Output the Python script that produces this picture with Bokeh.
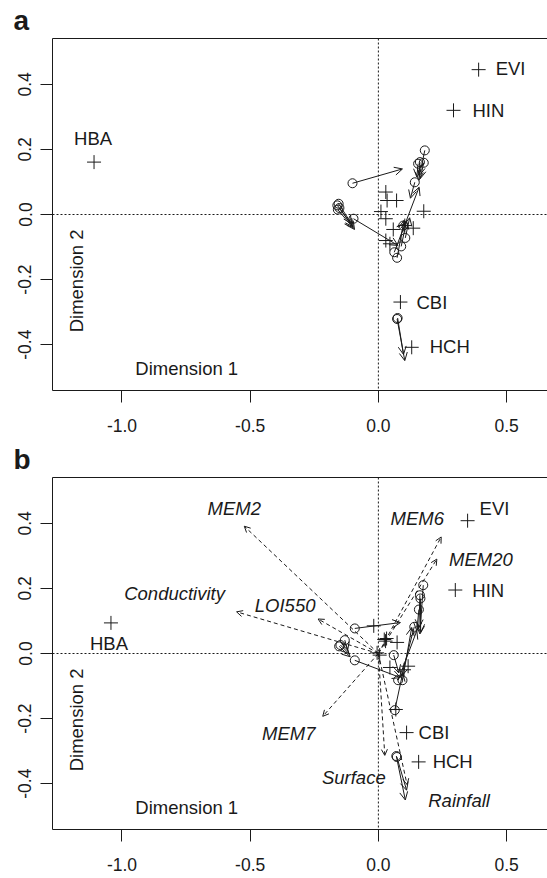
import math

from bokeh.core.properties import value
from bokeh.embed import file_html
from bokeh.layouts import column
from bokeh.models import (Arrow, ColumnDataSource, FixedTicker, LinearAxis,
                          OpenHead, Range1d, Span)
from bokeh.plotting import figure
from bokeh.resources import INLINE

FONT = "Liberation Sans"
INK = "#1a1a1a"
FS = "18.5px"
TICK_FS = "17.5px"

# axis ticks
x_ticks = [-1.0, -0.5, 0.0, 0.5]
x_tick_labels = ["-1.0", "-0.5", "0.0", "0.5"]
y_ticks = [-0.4, -0.2, 0.0, 0.2, 0.4]
y_tick_labels = ["-0.4", "-0.2", "0.0", "0.2", "0.4"]

# ---- panel a ----
a_site_names = ["EVI", "HIN", "HBA", "CBI", "HCH"]
a_site_x = [0.391, 0.293, -1.109, 0.086, 0.130]
a_site_y = [0.445, 0.320, 0.161, -0.269, -0.408]

a_other_x = [0.029, 0.034, 0.071, 0.010, 0.029, 0.058, 0.136, 0.177, 0.029, 0.045, 0.103]
a_other_y = [0.069, 0.043, 0.043, 0.009, -0.013, -0.046, -0.042, 0.010, -0.080, -0.090, -0.034]

a_from_x = [-0.101, -0.160, -0.155, -0.152, -0.158, -0.097, 0.181, 0.162, 0.177, 0.155,
            0.142, 0.062, 0.073, 0.089, 0.105, 0.097, 0.073, 0.075]
a_from_y = [0.096, 0.028, 0.033, 0.020, 0.015, -0.013, 0.197, 0.161, 0.159, 0.156,
            0.099, -0.116, -0.133, -0.098, -0.072, -0.034, -0.321, -0.318]
a_to_x = [0.094, -0.098, -0.105, -0.093, -0.100, 0.076, 0.160, 0.158, 0.163, 0.150,
          0.125, 0.159, 0.100, 0.110, 0.122, 0.104, 0.103, 0.098]
a_to_y = [0.140, -0.038, -0.028, -0.046, -0.040, -0.095, 0.120, 0.105, 0.110, 0.115,
          0.050, 0.084, -0.018, -0.020, -0.010, -0.028, -0.449, -0.430]

# ---- panel b ----
b_site_names = ["EVI", "HIN", "HBA", "CBI", "HCH"]
b_site_x = [0.348, 0.300, -1.043, 0.110, 0.157]
b_site_y = [0.408, 0.195, 0.094, -0.243, -0.333]

b_other_x = [-0.018, 0.023, 0.032, 0.028, 0.073, -0.005, 0.005, 0.045, 0.116, 0.068, 0.100]
b_other_y = [0.085, 0.043, 0.046, 0.038, 0.034, 0.002, -0.005, -0.043, -0.039, -0.172, -0.050]

b_from_x = [-0.092, -0.153, -0.148, -0.131, -0.092, 0.175, 0.162, 0.164, 0.158, 0.140,
            0.077, 0.094, 0.064, 0.060, 0.070, 0.072]
b_from_y = [0.077, 0.022, 0.026, 0.041, -0.021, 0.210, 0.179, 0.169, 0.135, 0.082,
            -0.082, -0.082, -0.174, -0.005, -0.315, -0.318]
b_to_x = [0.086, -0.110, -0.115, -0.120, 0.086, 0.162, 0.158, 0.165, 0.150, 0.090,
          0.150, 0.130, 0.095, 0.080, 0.105, 0.110]
b_to_y = [0.095, -0.010, 0.000, 0.010, -0.074, 0.060, 0.080, 0.065, 0.070, -0.070,
          0.070, 0.080, -0.060, -0.060, -0.450, -0.420]

env_names = ["MEM2", "MEM6", "MEM20", "Conductivity", "LOI550", "MEM7", "Surface", "Rainfall"]
env_x = [-0.523, 0.245, 0.228, -0.553, -0.235, -0.217, 0.025, 0.112]
env_y = [0.391, 0.358, 0.290, 0.128, 0.106, -0.193, -0.313, -0.403]

# label placement (pixels from the point)
a_site_dx = [17, 19, -1, 16, 18]
a_site_dy = [-1, 0, -24, 0, -1]
b_site_dx = [12, 17, -2, 12, 14]
b_site_dy = [-12, 0, 21, 0, 0]
env_dx = [-10, -24, 44, -62, -33, -34, -31, 52]
env_dy = [-18, -18, 0, -18, -13, 17, 22, 16]
site_align = ["left", "left", "center", "left", "left"]


def make_panel(letter, names, sx, sy, dx, dy, ox, oy, fx, fy, tx, ty, env=False):
    p = figure(width=547, height=439, output_backend="svg", toolbar_location=None,
               x_range=Range1d(-1.271, 0.6596), y_range=Range1d(-0.5407, 0.5407),
               min_border_left=52, min_border_right=0, min_border_top=38,
               min_border_bottom=49)
    p.outline_line_color = None
    p.grid.visible = False
    p.background_fill_color = "white"
    p.border_fill_color = "white"

    p.title.text = letter
    p.title.text_font = FONT
    p.title.text_font_size = "28px"
    p.title.text_font_style = "bold"
    p.title.text_color = INK
    p.title.align = "left"
    p.title.offset = -39
    p.title.standoff = 5

    for ax, ticks, labels in ((p.xaxis, x_ticks, x_tick_labels), (p.yaxis, y_ticks, y_tick_labels)):
        ax.ticker = FixedTicker(ticks=ticks)
        ax.major_label_overrides = {t: l for t, l in zip(ticks, labels)}
        ax.minor_tick_line_color = None
        ax.major_tick_in = 0
        ax.major_tick_out = 12
        ax.major_tick_line_color = INK
        ax.axis_line_color = INK
        ax.major_label_text_font = FONT
        ax.major_label_text_font_size = TICK_FS
        ax.major_label_text_color = INK
    p.xaxis.major_label_standoff = 16
    p.yaxis.major_label_standoff = 9
    p.yaxis.major_label_orientation = "vertical"

    top = LinearAxis(ticker=FixedTicker(ticks=[]), major_tick_out=0, major_tick_in=0,
                     minor_tick_out=0, minor_tick_in=0, major_label_text_font_size="0px",
                     axis_line_color=INK, major_label_standoff=0)
    p.add_layout(top, "above")

    p.add_layout(Span(location=0, dimension="height", line_color=INK, line_width=1,
                      line_dash="2 2"))
    p.add_layout(Span(location=0, dimension="width", line_color=INK, line_width=1,
                      line_dash="2 2"))

    if env:
        esrc = ColumnDataSource(dict(x0=[0.0] * len(env_x), y0=[0.0] * len(env_y),
                                     x1=env_x, y1=env_y, name=env_names,
                                     dx=env_dx, dy=env_dy))
        p.add_layout(Arrow(source=esrc, x_start="x0", y_start="y0", x_end="x1", y_end="y1",
                           line_color=INK, line_width=1, line_dash="4 3",
                           end=OpenHead(size=6, line_color=INK, line_width=1)))
        p.text(x="x1", y="y1", text="name", source=esrc, x_offset="dx", y_offset="dy",
               text_font=value(FONT), text_font_size=FS, text_font_style="italic",
               text_color=INK, text_align="center", text_baseline="middle")

    asrc = ColumnDataSource(dict(x0=fx, y0=fy, x1=tx, y1=ty))
    p.add_layout(Arrow(source=asrc, x_start="x0", y_start="y0", x_end="x1", y_end="y1",
                       line_color=INK, line_width=1,
                       end=OpenHead(size=8, line_color=INK, line_width=1)))
    p.scatter(x="x0", y="y0", source=asrc, marker="circle", size=9, fill_color=None,
              line_color=INK, line_width=1)

    p.scatter(x=ox, y=oy, marker="cross", size=14, line_color=INK, line_width=1)

    ssrc = ColumnDataSource(dict(x=sx, y=sy, name=names, dx=dx, dy=dy, al=site_align))
    p.scatter(x="x", y="y", source=ssrc, marker="cross", size=14, line_color=INK, line_width=1)
    p.text(x="x", y="y", text="name", source=ssrc, x_offset="dx", y_offset="dy",
           text_font=value(FONT), text_font_size=FS, text_color=INK,
           text_align="al", text_baseline="middle")

    p.text(x=[-0.948], y=[-0.472], text=["Dimension 1"], text_font=value(FONT),
           text_font_size=FS, text_color=INK, text_align="left", text_baseline="middle")
    p.text(x=[-1.178], y=[-0.204], text=["Dimension 2"], text_font=value(FONT),
           text_font_size=FS, text_color=INK, text_align="center", text_baseline="middle",
           angle=math.pi / 2)
    return p


pa = make_panel("a", a_site_names, a_site_x, a_site_y, a_site_dx, a_site_dy,
                a_other_x, a_other_y, a_from_x, a_from_y, a_to_x, a_to_y)
pb = make_panel("b", b_site_names, b_site_x, b_site_y, b_site_dx, b_site_dy,
                b_other_x, b_other_y, b_from_x, b_from_y, b_to_x, b_to_y, env=True)

layout = column(pa, pb, spacing=0)
open("out.html", "w").write(file_html(layout, INLINE))
